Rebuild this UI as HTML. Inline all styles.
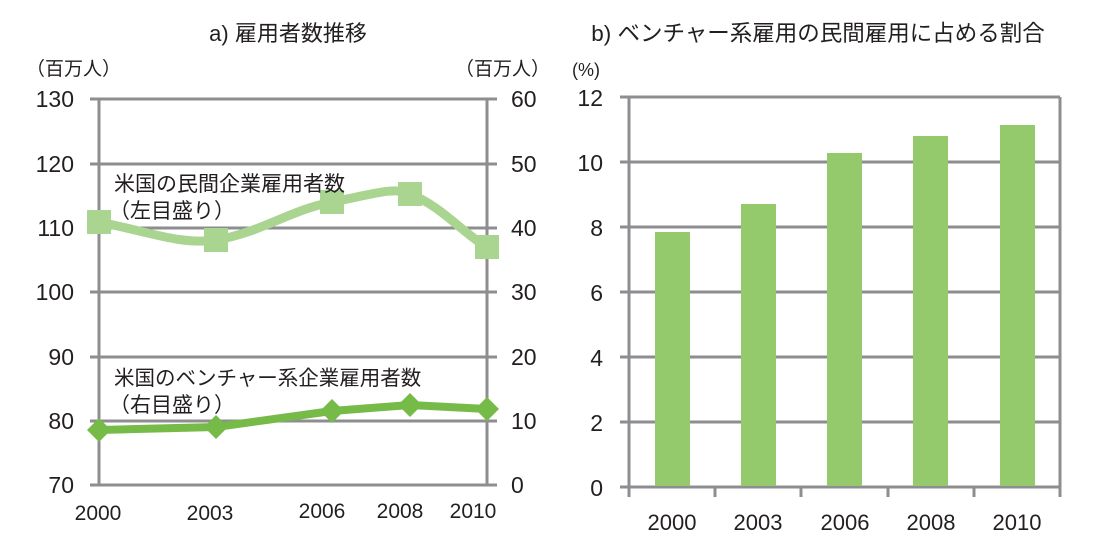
<!DOCTYPE html>
<html><head><meta charset="utf-8"><style>
html,body{margin:0;padding:0;background:#fff;}
svg text{font-family:"Liberation Sans","Noto Sans CJK JP",sans-serif;fill:#231f20;}
</style></head><body>
<svg width="1094" height="555" viewBox="0 0 1094 555" xmlns="http://www.w3.org/2000/svg">
<g stroke="#8e8e90" stroke-width="3" fill="none">
<line x1="90" y1="99" x2="497" y2="99"/>
<line x1="90" y1="164" x2="497" y2="164"/>
<line x1="90" y1="228" x2="497" y2="228"/>
<line x1="90" y1="292" x2="497" y2="292"/>
<line x1="90" y1="357" x2="497" y2="357"/>
<line x1="90" y1="421" x2="497" y2="421"/>
<line x1="90" y1="485" x2="497" y2="485"/>
<line x1="99" y1="99" x2="99" y2="485"/>
<line x1="487" y1="99" x2="487" y2="485"/>
</g>
<text x="288" y="41" font-size="22" text-anchor="middle">a) 雇用者数推移</text>
<text x="26" y="75" font-size="19">（百万人）</text>
<text x="550" y="75" font-size="19" text-anchor="end">（百万人）</text>
<g font-size="23" text-anchor="end">
<text x="74" y="107">130</text><text x="74" y="172">120</text><text x="74" y="236">110</text>
<text x="74" y="300">100</text><text x="74" y="365">90</text><text x="74" y="429">80</text><text x="74" y="493">70</text>
</g>
<g font-size="23" text-anchor="start">
<text x="511" y="107">60</text><text x="511" y="172">50</text><text x="511" y="236">40</text>
<text x="511" y="300">30</text><text x="511" y="365">20</text><text x="511" y="429">10</text><text x="511" y="493">0</text>
</g>
<g font-size="21" text-anchor="middle">
<text x="98" y="520">2000</text><text x="210" y="520">2003</text><text x="322" y="518">2006</text>
<text x="400" y="518">2008</text><text x="473" y="518">2010</text>
</g>
<path d="M99,222 C150,232 180,245 216,240 C260,233 290,210 332,202 C370,195 395,186 410,194 C440,205 465,235 487,247" stroke="#a9d591" stroke-width="9" fill="none"/>
<g fill="#a9d591">
<rect x="87" y="210" width="24" height="24"/><rect x="204" y="228" width="24" height="24"/>
<rect x="320" y="190" width="24" height="24"/><rect x="398" y="182" width="24" height="24"/>
<rect x="475" y="235" width="24" height="24"/>
</g>
<text x="114" y="191" font-size="21">米国の民間企業雇用者数</text>
<text x="109" y="218" font-size="21">（左目盛り）</text>
<path d="M99,430 L216,427 L332,411 L410,405 L487,409" stroke="#76bb48" stroke-width="8" fill="none" stroke-linejoin="round"/>
<g fill="#76bb48">
<polygon points="99,418 111,430 99,442 87,430"/><polygon points="216,415 228,427 216,439 204,427"/>
<polygon points="332,399 344,411 332,423 320,411"/><polygon points="410,393 422,405 410,417 398,405"/>
<polygon points="487,397 499,409 487,421 475,409"/>
</g>
<text x="114" y="385" font-size="20.5">米国のベンチャー系企業雇用者数</text>
<text x="109" y="412" font-size="21">（右目盛り）</text>

<text x="818" y="41" font-size="22.5" text-anchor="middle">b) ベンチャー系雇用の民間雇用に占める割合</text>
<text x="572" y="76" font-size="18">(%)</text>
<g stroke="#8e8e90" stroke-width="3" fill="none">
<line x1="620" y1="97" x2="1060" y2="97"/>
<line x1="620" y1="162" x2="1060" y2="162"/>
<line x1="620" y1="227" x2="1060" y2="227"/>
<line x1="620" y1="292" x2="1060" y2="292"/>
<line x1="620" y1="357" x2="1060" y2="357"/>
<line x1="620" y1="422" x2="1060" y2="422"/>
<line x1="620" y1="487" x2="1060" y2="487"/>
<line x1="629" y1="97" x2="629" y2="497"/>
<line x1="1060" y1="97" x2="1060" y2="497"/>
<line x1="715" y1="487" x2="715" y2="497"/><line x1="801" y1="487" x2="801" y2="497"/>
<line x1="888" y1="487" x2="888" y2="497"/><line x1="974" y1="487" x2="974" y2="497"/>
</g>
<g fill="#95ca6c">
<rect x="655" y="232" width="35" height="254"/><rect x="741" y="204" width="35" height="282"/>
<rect x="827" y="153" width="35" height="333"/><rect x="913" y="136" width="35" height="350"/>
<rect x="1000" y="125" width="35" height="361"/>
</g>
<g font-size="23" text-anchor="end">
<text x="603" y="106">12</text><text x="603" y="171">10</text><text x="603" y="236">8</text>
<text x="603" y="301">6</text><text x="603" y="366">4</text><text x="603" y="431">2</text><text x="603" y="496">0</text>
</g>
<g font-size="22" text-anchor="middle">
<text x="672" y="530">2000</text><text x="758" y="530">2003</text><text x="845" y="530">2006</text>
<text x="931" y="530">2008</text><text x="1017" y="530">2010</text>
</g>
</svg>
</body></html>
